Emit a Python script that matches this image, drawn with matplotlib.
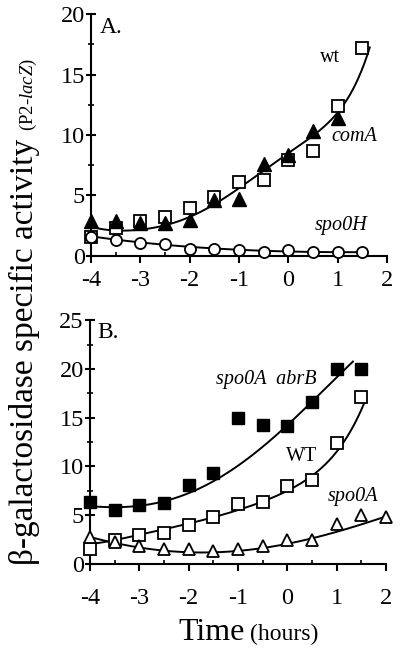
import numpy as np
import matplotlib
matplotlib.use('Agg')
import matplotlib.pyplot as plt
from matplotlib.ticker import MultipleLocator

plt.rcParams['font.family'] = ['Liberation Serif', 'DejaVu Serif']
plt.rcParams['mathtext.fontset'] = 'custom'
plt.rcParams['mathtext.it'] = 'Liberation Serif:italic'
plt.rcParams['mathtext.rm'] = 'Liberation Serif'
plt.rcParams['axes.unicode_minus'] = False

# 时间点 (hours)
t = [-4, -3.5, -3, -2.5, -2, -1.5, -1, -0.5, 0, 0.5, 1, 1.5]
t_comA = [-4, -3.5, -3, -2.5, -2, -1.5, -1, -0.5, 0, 0.5, 1]
t_spo0A = [-4, -3.5, -3, -2.5, -2, -1.5, -1, -0.5, 0, 0.5, 1, 1.5, 2]

# A 图数据
a_wt = [1.6, 2.3, 2.9, 3.2, 4.0, 4.85, 6.1, 6.3, 7.9, 8.7, 12.4, 17.2]
a_comA = [2.85, 2.9, 2.7, 2.7, 3.0, 4.6, 4.75, 7.6, 8.35, 10.3, 11.4]
a_spo0H = [1.6, 1.3, 1.1, 0.95, 0.55, 0.6, 0.5, 0.3, 0.5, 0.35, 0.35, 0.35]

# B 图数据
b_abrB = [6.4, 5.55, 6.05, 6.3, 8.1, 9.3, 15.0, 14.25, 14.1, 16.65, 20.0, 20.0]
b_wt = [1.5, 2.46, 2.97, 3.15, 4.0, 4.85, 6.1, 6.4, 8.0, 8.6, 12.4, 17.1]
b_spo0A = [2.8, 2.3, 1.8, 1.5, 1.5, 1.37, 1.5, 1.8, 2.5, 2.5, 4.1, 5.0, 4.8]

# 拟合曲线 (从原图读取的曲线点)
fa_wt_x = [-4, -3.5, -3, -2.5, -2, -1.5, -1, -0.5, 0, 0.5, 1, 1.25, 1.5, 1.65]
fa_wt_y = [2.42, 2.15, 2.15, 2.48, 3.25, 4.35, 5.6, 6.97, 8.5, 10.0, 11.9, 13.3, 15.4, 17.3]
fa_h_x = [-4, -3.5, -3, -2.5, -2, -1.5, -1, 0, 1, 1.5]
fa_h_y = [1.6, 1.38, 1.13, 0.94, 0.74, 0.6, 0.5, 0.39, 0.33, 0.3]
fb_abrB_x = [-4, -3.5, -3, -2.5, -2, -1.5, -1, -0.5, 0, 0.5, 1, 1.33]
fb_abrB_y = [5.95, 5.8, 5.95, 6.4, 7.25, 8.6, 10.15, 11.9, 14.1, 16.65, 19.4, 20.6]
fb_wt_x = [-4, -3.5, -3, -2.5, -2, -1.5, -1, -0.5, 0, 0.5, 1, 1.25, 1.56]
fb_wt_y = [2.05, 2.46, 2.97, 3.56, 4.17, 4.8, 5.47, 6.4, 7.6, 8.96, 11.5, 13.4, 16.5]
fb_a_x = [-4, -3.5, -3, -2.5, -2, -1.5, -1, -0.5, 0, 0.5, 1, 1.5, 2]
fb_a_y = [2.8, 2.1, 1.68, 1.37, 1.26, 1.2, 1.33, 1.6, 2.05, 2.63, 3.3, 4.1, 4.85]

fig = plt.figure(figsize=(4, 6.52), dpi=100)
axA = fig.add_axes([0.2275, 0.6074, 0.74, 0.3711])
axB = fig.add_axes([0.225, 0.135, 0.74, 0.374])


def style_axis(ax, ymax, xpad):
    ax.set_xlim(-4, 2)
    ax.set_ylim(0, ymax)
    ax.spines['top'].set_visible(False)
    ax.spines['right'].set_visible(False)
    ax.spines['left'].set_linewidth(1.5)
    ax.spines['bottom'].set_linewidth(1.5)
    ax.xaxis.set_major_locator(MultipleLocator(1))
    ax.xaxis.set_minor_locator(MultipleLocator(0.5))
    ax.yaxis.set_major_locator(MultipleLocator(5))
    ax.yaxis.set_minor_locator(MultipleLocator(2.5))
    ax.tick_params(axis='both', which='major', width=1.5, labelsize=17.5)
    ax.tick_params(axis='x', which='major', direction='out', length=5, pad=xpad)
    ax.tick_params(axis='x', which='minor', direction='in', length=3, width=1.2)
    ax.tick_params(axis='y', which='major', direction='inout', length=7, pad=1)
    ax.tick_params(axis='y', which='minor', direction='inout', length=5, width=1.2)
    ax.patch.set_visible(False)


def fit_line(ax, xs, ys, deg):
    coef = np.polyfit(xs, ys, deg)
    xx = np.linspace(min(xs), max(xs), 300)
    ax.plot(xx, np.polyval(coef, xx), color='black', lw=1.4, zorder=2)


style_axis(axA, 20, 5)
style_axis(axB, 25, 12)

mk = dict(linestyle='none', clip_on=False, zorder=3)

# ---- A ----
fit_line(axA, fa_wt_x, fa_wt_y, 6)
fit_line(axA, fa_h_x, fa_h_y, 3)
axA.plot(t, a_wt, marker='s', ms=9, mfc='white', mec='black', mew=1.3, **mk)
axA.plot(t_comA, a_comA, marker='^', ms=9.5, mfc='black', mec='black', **mk)
axA.plot(t, a_spo0H, marker='o', ms=8, mfc='white', mec='black', mew=1.3, **mk)

axA.text(-3.82, 18.9, 'A.', fontsize=17, va='center', ha='left')
axA.text(0.85, 16.4, 'wt', fontsize=14.5, va='center', ha='center')
axA.text(1.33, 9.9, 'comA', fontsize=14.5, style='italic', va='center', ha='center')
axA.text(1.07, 2.55, 'spo0H', fontsize=14.5, style='italic', va='center', ha='center')

# ---- B ----
fit_line(axB, fb_abrB_x, fb_abrB_y, 4)
fit_line(axB, fb_wt_x, fb_wt_y, 6)
fit_line(axB, fb_a_x, fb_a_y, 4)
axB.plot(t, b_abrB, marker='s', ms=9, mfc='black', mec='black', **mk)
axB.plot(t, b_wt, marker='s', ms=9, mfc='white', mec='black', mew=1.3, **mk)
axB.plot(t_spo0A, b_spo0A, marker='^', ms=9, mfc='white', mec='black', mew=1.3, **mk)

axB.text(-3.86, 23.7, 'B.', fontsize=17, va='center', ha='left')
axB.text(-0.43, 18.9, 'spo0A  abrB', fontsize=14.5, style='italic', va='center', ha='center')
axB.text(0.28, 11.0, 'WT', fontsize=14.5, va='center', ha='center')
axB.text(1.34, 6.9, 'spo0A', fontsize=14.5, style='italic', va='center', ha='center')

# ---- 轴标题 (混合字号) ----
ylab = fig.text(33 / 400, 1 - 565 / 652, 'β-galactosidase specific activity', fontsize=24,
                rotation=90, rotation_mode='anchor', ha='left', va='baseline')
xlab = fig.text(178 / 400, 1 - 640 / 652, 'Time', fontsize=23, ha='left', va='baseline')
fig.canvas.draw()
r = fig.canvas.get_renderer()
yb = ylab.get_window_extent(r)
xb = xlab.get_window_extent(r)
fig.text(33 / 400, (yb.y1 + 8) / fig.bbox.height, '(P2-$\\mathit{lacZ}$)', fontsize=13.5,
         rotation=90, rotation_mode='anchor', ha='left', va='baseline')
fig.text((xb.x1 + 6) / fig.bbox.width, 1 - 640 / 652, '(hours)', fontsize=17,
         ha='left', va='baseline')

fig.savefig('out.png', dpi=100)
